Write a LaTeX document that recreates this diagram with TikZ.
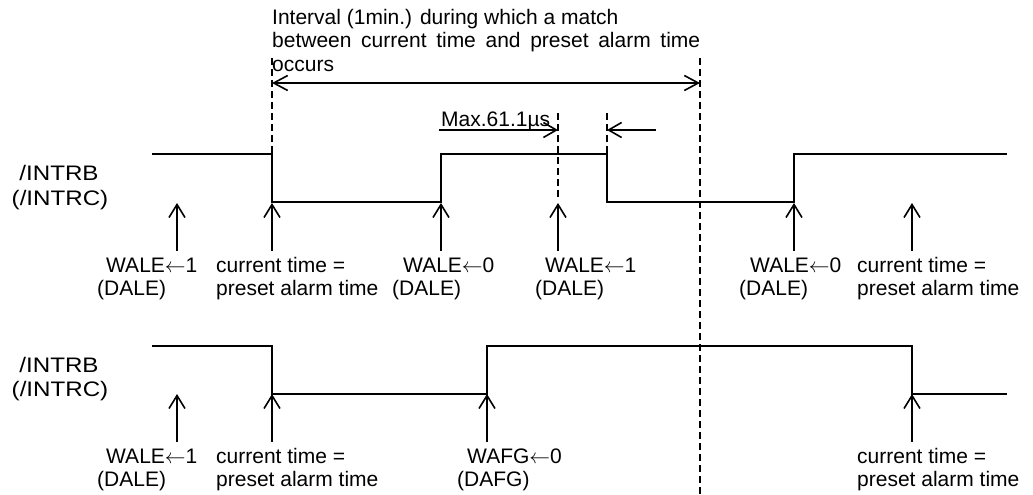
\documentclass[tikz,border=0pt]{standalone}
\usepackage{fontspec}
\setmainfont{Liberation Sans}
\usetikzlibrary{arrows.meta}
\begin{document}
\begin{tikzpicture}[x=1pt,y=-1pt,
  sig/.style={line width=1.8pt, line join=miter},
  guide/.style={line width=1.5pt, dash pattern=on 7pt off 4pt},
  evt/.style={line width=1.8pt, -{Straight Barb[length=13pt,width=16pt,line width=1.6pt]}},
  dimarrow/.style={line width=1.8pt, -{Straight Barb[length=13pt,width=15pt,line width=1.6pt]}},
  lbl/.style={font=\fontsize{21}{23}\selectfont, inner sep=0pt, anchor=base west},
  sidelbl/.style={font=\fontsize{21}{23}\selectfont, inner sep=0pt, anchor=base},
]
\useasboundingbox (0,0) rectangle (1033,495);

% guide lines
\coordinate (gA1) at (272,58);  \coordinate (gA2) at (272,154);
\coordinate (gB1) at (700,58);  \coordinate (gB2) at (700,495);
\coordinate (gC1) at (558,113); \coordinate (gC2) at (558,200);
\coordinate (gD1) at (607,113); \coordinate (gD2) at (607,154);
\draw[guide] (gA1) -- (gA2);
\draw[guide] (gB1) -- (gB2);
\draw[guide] (gC1) -- (gC2);
\draw[guide] (gD1) -- (gD2);

% interval dimension
\coordinate (iv1) at (272,83); \coordinate (iv2) at (700,83);
\draw[line width=1.8pt, {Straight Barb[length=14pt,width=15pt,line width=1.6pt]}-{Straight Barb[length=14pt,width=15pt,line width=1.6pt]}] (iv1) -- (iv2);
\node[lbl] (t1) at (272,25) {Interval (1min.) during which a match};
\node[lbl] (t2) at (272,48) {\makebox[428pt][s]{between current time and preset alarm time}};
\node[lbl] (t3) at (272,71) {occurs};

% max dimension
\coordinate (mx1) at (439,130); \coordinate (mx2) at (558,130);
\coordinate (mx3) at (656,130); \coordinate (mx4) at (607,130);
\draw[dimarrow] (mx1) -- (mx2);
\draw[dimarrow] (mx3) -- (mx4);
\node[lbl] (mxl) at (441,126) {Max.61.1µs};

% waveforms
\draw[sig] (152,154) -- (272,154) -- (272,202) -- (441,202) -- (441,154) -- (607,154) -- (607,202) -- (794,202) -- (794,154) -- (1007,154);
\draw[sig] (152,346) -- (272,346) -- (272,394) -- (487,394) -- (487,346) -- (912,346) -- (912,394) -- (1007,394);

% side labels
\node[sidelbl] (s1a) at (59,180) {\scalebox{1.15}[1]{/INTRB}};
\node[sidelbl] (s1b) at (60,205) {\scalebox{1.15}[1]{(/INTRC)}};
\node[sidelbl] (s2a) at (59,372) {\scalebox{1.15}[1]{/INTRB}};
\node[sidelbl] (s2b) at (60,396) {\scalebox{1.15}[1]{(/INTRC)}};

% event arrows
\foreach \n/\x in {a/177,b/272,c/441,d/558,e/794,f/912}{
  \coordinate (r1\n t) at (\x,251); \coordinate (r1\n h) at (\x,203);
  \draw[evt] (r1\n t) -- (r1\n h);
}
\foreach \n/\x in {a/177,b/272,c/487,d/912}{
  \coordinate (r2\n t) at (\x,442); \coordinate (r2\n h) at (\x,394);
  \draw[evt] (r2\n t) -- (r2\n h);
}

% row 1 labels
\node[lbl] (l1a1) at (106,272) {WALE$\leftarrow$1};
\node[lbl] (l1a2) at (97,295) {(DALE)};
\node[lbl] (l1b1) at (216,272) {current time =};
\node[lbl] (l1b2) at (216,295) {preset alarm time};
\node[lbl] (l1c1) at (403,272) {WALE$\leftarrow$0};
\node[lbl] (l1c2) at (392,295) {(DALE)};
\node[lbl] (l1d1) at (545,272) {WALE$\leftarrow$1};
\node[lbl] (l1d2) at (535,295) {(DALE)};
\node[lbl] (l1e1) at (750,272) {WALE$\leftarrow$0};
\node[lbl] (l1e2) at (739,295) {(DALE)};
\node[lbl] (l1f1) at (857,272) {current time =};
\node[lbl] (l1f2) at (857,295) {preset alarm time};

% row 2 labels
\node[lbl] (l2a1) at (106,463) {WALE$\leftarrow$1};
\node[lbl] (l2a2) at (97,486) {(DALE)};
\node[lbl] (l2b1) at (216,463) {current time =};
\node[lbl] (l2b2) at (216,486) {preset alarm time};
\node[lbl] (l2c1) at (467,463) {WAFG$\leftarrow$0};
\node[lbl] (l2c2) at (457,486) {(DAFG)};
\node[lbl] (l2d1) at (857,463) {current time =};
\node[lbl] (l2d2) at (857,486) {preset alarm time};
\end{tikzpicture}
\end{document}
